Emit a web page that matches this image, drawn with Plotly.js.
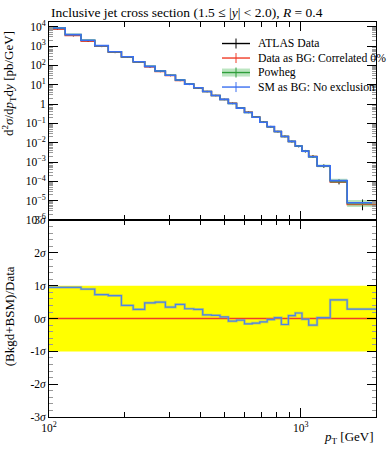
<!DOCTYPE html>
<html>
<head>
<meta charset="utf-8">
<script src="https://cdn.plot.ly/plotly-3.0.1.min.js"></script>
<style>
  html, body { margin: 0; padding: 0; background: #fff; }
  #chart { width: 389px; height: 450px; }
</style>
</head>
<body>
<div id="chart"></div>
<script>
// ---- data ----
const binEdges = [100,116,134,152,172,194,216,240,264,290,318,346,376,408,442,478,516,556,598,642,688,736,786,838,894,952,1012,1076,1162,1310,1530,1992];

const dataVals = [7.7e3,3.53e3,1.82e3,978,476,270,151,85.3,48.8,30.1,16.8,10.5,6.83,4.46,2.78,1.74,1.088,0.623,0.376,0.213,0.116,0.0682,0.0379,0.0214,0.01167,0.00664,0.0037,0.00197,6.36e-4,9.4e-5,6.5e-6];
const dataRelErrUp = [0.11,0.11,0.11,0.10,0.10,0.09,0.09,0.09,0.09,0.09,0.09,0.09,0.09,0.09,0.09,0.09,0.09,0.09,0.10,0.10,0.10,0.10,0.10,0.11,0.12,0.13,0.15,0.17,0.20,0.35,0.80];
const dataRelErrDn = [0.11,0.11,0.11,0.10,0.10,0.09,0.09,0.09,0.09,0.09,0.09,0.09,0.09,0.09,0.09,0.09,0.09,0.09,0.10,0.10,0.10,0.10,0.10,0.11,0.12,0.13,0.15,0.17,0.20,0.25,0.50];

const smVals = [8.5e3,3.9e3,2.0e3,1.05e3,510,280,155,89,51,31,17.5,10.8,7.0,4.5,2.8,1.75,1.08,0.62,0.37,0.21,0.115,0.068,0.038,0.021,0.0118,0.0068,0.0037,0.0019,6.4e-4,1.1e-4,7.9e-6];
const powhegVals = [8.5e3,3.9e3,2.0e3,1.05e3,510,280,155,89,51,31,17.5,10.8,7.0,4.5,2.8,1.75,1.08,0.62,0.37,0.21,0.115,0.068,0.038,0.021,0.0118,0.0068,0.0037,0.0019,6.4e-4,1.1e-4,7.9e-6];
const powhegRelErr = [0.05,0.05,0.05,0.05,0.05,0.05,0.05,0.05,0.05,0.05,0.05,0.05,0.05,0.05,0.05,0.05,0.06,0.06,0.06,0.07,0.07,0.08,0.08,0.09,0.10,0.11,0.12,0.14,0.16,0.25,0.40];

// (Bkgd+BSM)/Data pulls in units of sigma
const smPull = [0.95,0.95,0.90,0.73,0.70,0.40,0.28,0.48,0.50,0.35,0.43,0.30,0.28,0.11,0.10,0.05,-0.08,-0.05,-0.16,-0.14,-0.10,-0.03,0.03,-0.18,0.09,0.17,-0.02,-0.20,0.03,0.57,0.29];
const dataPull = [0,0,0,0,0,0,0,0,0,0,0,0,0,0,0,0,0,0,0,0,0,0,0,0,0,0,0,0,0,0,0];
const sigmaBand = [-1, 1];

const yTickVals = [1e4,1e3,1e2,1e1,1,1e-1,1e-2,1e-3,1e-4,1e-5,1e-6];
const yTickText = ['10<sup>4</sup>','10<sup>3</sup>','10<sup>2</sup>','10<sup>1</sup>','1','10<sup>−1</sup>','10<sup>−2</sup>','10<sup>−3</sup>','10<sup>−4</sup>','10<sup>−5</sup>','10<sup>−6</sup>'];
const rTickVals = [-3,-2,-1,0,1,2,3];
const rTickText = ['-3<i>σ</i>','-2<i>σ</i>','-1<i>σ</i>','0<i>σ</i>','1<i>σ</i>','2<i>σ</i>','3<i>σ</i>'];
const xTickVals = [100, 1000];
const xTickText = ['10<sup>2</sup>','10<sup>3</sup>'];
const xMinorVals = [200,300,400,500,600,700,800,900,2000];

// ---- helpers ----
const stepY = v => v.concat([v[v.length-1]]);
const centers = binEdges.slice(0,-1).map((e,i) => (e + binEdges[i+1]) / 2);
const halfW = binEdges.slice(0,-1).map((e,i) => (binEdges[i+1] - e) / 2);

const FONT = 'Liberation Serif, Times New Roman, serif';
const BLUE = '#3a6ff0';
const RED = '#f03c28';
const GREEN = '#2e9e3a';

const traces = [
  // upper panel
  { x: centers, y: dataVals, xaxis: 'x2', yaxis: 'y', type: 'scatter', mode: 'markers',
    marker: { size: 1, color: '#000' }, showlegend: false, hoverinfo: 'skip',
    error_y: { type: 'data', symmetric: false,
      array: dataVals.map((v,i) => v * dataRelErrUp[i]),
      arrayminus: dataVals.map((v,i) => v * dataRelErrDn[i]),
      color: '#000', thickness: 1, width: 0 },
    error_x: { type: 'data', array: halfW, color: '#000', thickness: 1, width: 0 } },
  { x: binEdges, y: stepY(dataVals), xaxis: 'x2', yaxis: 'y', type: 'scatter', mode: 'lines',
    line: { shape: 'hv', color: RED, width: 1.5 }, showlegend: false, hoverinfo: 'skip' },
  { x: binEdges, y: stepY(powhegVals.map((v,i) => v * (1 - powhegRelErr[i]))), xaxis: 'x2', yaxis: 'y',
    type: 'scatter', mode: 'lines', line: { shape: 'hv', width: 0, color: 'rgba(0,0,0,0)' },
    showlegend: false, hoverinfo: 'skip' },
  { x: binEdges, y: stepY(powhegVals.map((v,i) => v * (1 + powhegRelErr[i]))), xaxis: 'x2', yaxis: 'y',
    type: 'scatter', mode: 'lines', fill: 'tonexty', fillcolor: 'rgba(60,180,75,0.35)',
    line: { shape: 'hv', width: 0, color: 'rgba(0,0,0,0)' }, showlegend: false, hoverinfo: 'skip' },
  { x: binEdges, y: stepY(powhegVals), xaxis: 'x2', yaxis: 'y', type: 'scatter', mode: 'lines',
    line: { shape: 'hv', color: GREEN, width: 1.5 }, showlegend: false, hoverinfo: 'skip' },
  { x: binEdges, y: stepY(smVals), xaxis: 'x2', yaxis: 'y', type: 'scatter', mode: 'lines',
    line: { shape: 'hv', color: BLUE, width: 1.6 }, showlegend: false, hoverinfo: 'skip' },

  // lower (ratio) panel
  { x: [binEdges[0], binEdges[binEdges.length-1]], y: [sigmaBand[0], sigmaBand[0]], xaxis: 'x', yaxis: 'y2',
    type: 'scatter', mode: 'lines', line: { width: 0, color: 'rgba(0,0,0,0)' }, showlegend: false, hoverinfo: 'skip' },
  { x: [binEdges[0], binEdges[binEdges.length-1]], y: [sigmaBand[1], sigmaBand[1]], xaxis: 'x', yaxis: 'y2',
    type: 'scatter', mode: 'lines', fill: 'tonexty', fillcolor: '#ffff00',
    line: { width: 0, color: 'rgba(0,0,0,0)' }, showlegend: false, hoverinfo: 'skip' },
  { x: binEdges, y: stepY(dataPull), xaxis: 'x', yaxis: 'y2', type: 'scatter', mode: 'lines',
    line: { shape: 'hv', color: RED, width: 1.5 }, showlegend: false, hoverinfo: 'skip' },
  { x: binEdges, y: stepY(smPull), xaxis: 'x', yaxis: 'y2', type: 'scatter', mode: 'lines',
    line: { shape: 'hv', color: 'rgba(150,160,170,0.55)', width: 2.6 }, showlegend: false, hoverinfo: 'skip' },
  { x: binEdges, y: stepY(smPull), xaxis: 'x', yaxis: 'y2', type: 'scatter', mode: 'lines',
    line: { shape: 'hv', color: '#4a86e6', width: 1.2 }, showlegend: false, hoverinfo: 'skip' }
];

// ---- legend (manual, to match tight row spacing) ----
const plotTop = 22, plotH = 394.7, plotL = 49, plotW = 327;
const px2x = px => (px - plotL) / plotW;
const px2y = py => 1 - (py - plotTop) / plotH;
const legendRows = [
  { label: 'ATLAS Data', color: '#000', band: false },
  { label: 'Data as BG: Correlated 0%', color: RED, band: false },
  { label: 'Powheg', color: GREEN, band: true },
  { label: 'SM as BG: No exclusion', color: BLUE, band: false }
];
const rowY = [43.5, 58, 72.5, 87];
const shapes = [];
const annotations = [];
legendRows.forEach((r, i) => {
  const yc = rowY[i];
  if (r.band) {
    shapes.push({ type: 'rect', xref: 'paper', yref: 'paper', x0: px2x(222), x1: px2x(250),
      y0: px2y(yc + 4), y1: px2y(yc - 4), fillcolor: 'rgba(60,180,75,0.35)', line: { width: 0 } });
  }
  shapes.push({ type: 'line', xref: 'paper', yref: 'paper', x0: px2x(222), x1: px2x(250),
    y0: px2y(yc), y1: px2y(yc), line: { color: r.color, width: 1.4 } });
  shapes.push({ type: 'line', xref: 'paper', yref: 'paper', x0: px2x(236), x1: px2x(236),
    y0: px2y(yc - 5), y1: px2y(yc + 5), line: { color: r.color, width: 1 } });
  annotations.push({ xref: 'paper', yref: 'paper', x: px2x(256), y: px2y(yc), xanchor: 'left', yanchor: 'middle',
    text: r.label, showarrow: false, font: { family: FONT, size: 11.7, color: '#000' } });
});

// titles as annotations
annotations.push({ xref: 'paper', yref: 'paper', x: 0, y: px2y(13), xanchor: 'left', yanchor: 'middle',
  text: 'Inclusive jet cross section (1.5 ≤ |<i>y</i>| &lt; 2.0), <i>R</i> = 0.4', showarrow: false,
  font: { family: FONT, size: 13.5, color: '#000' } });
annotations.push({ xref: 'paper', yref: 'paper', x: px2x(9), y: px2y(84), xanchor: 'center', yanchor: 'middle',
  textangle: -90, text: 'd<sup>2</sup><i>σ</i>/d<i>p</i><sub>T</sub>d<i>y</i> [pb/GeV]', showarrow: false,
  font: { family: FONT, size: 13, color: '#000' } });
annotations.push({ xref: 'paper', yref: 'paper', x: px2x(9), y: px2y(316), xanchor: 'center', yanchor: 'middle',
  textangle: -90, text: '(Bkgd+BSM)/Data', showarrow: false,
  font: { family: FONT, size: 13, color: '#000' } });
annotations.push({ xref: 'paper', yref: 'paper', x: 1, y: px2y(437), xanchor: 'right', yanchor: 'middle',
  text: '<i>p</i><sub>T</sub> [GeV]', showarrow: false,
  font: { family: FONT, size: 13, color: '#000' } });

const split = (416.7 - 220) / plotH;
const xRange = [Math.log10(binEdges[0]), Math.log10(binEdges[binEdges.length-1])];

const commonAxis = {
  showline: true, linecolor: '#000', linewidth: 1, mirror: 'ticks', ticks: 'inside',
  tickcolor: '#000', tickwidth: 1, showgrid: false, zeroline: false,
  tickfont: { family: FONT, size: 11.5, color: '#000' }
};

const layout = {
  width: 389, height: 450,
  margin: { l: plotL, r: 389 - plotL - plotW, t: plotTop, b: 450 - plotTop - plotH, pad: 0 },
  paper_bgcolor: '#fff', plot_bgcolor: '#fff',
  showlegend: false,
  font: { family: FONT, size: 11, color: '#000' },
  xaxis: Object.assign({}, commonAxis, {
    type: 'log', range: xRange, anchor: 'y2', ticklen: 9,
    tickmode: 'array', tickvals: xTickVals, ticktext: xTickText,
    minor: { tickmode: 'array', tickvals: xMinorVals, ticks: 'inside', ticklen: 5, tickcolor: '#000', showgrid: false }
  }),
  xaxis2: Object.assign({}, commonAxis, {
    type: 'log', range: xRange, anchor: 'y', matches: 'x', ticklen: 9, showticklabels: false,
    tickmode: 'array', tickvals: xTickVals,
    minor: { tickmode: 'array', tickvals: xMinorVals, ticks: 'inside', ticklen: 5, tickcolor: '#000', showgrid: false }
  }),
  yaxis: Object.assign({}, commonAxis, {
    type: 'log', range: [-6, 4.243], domain: [split, 1], anchor: 'x2', ticklen: 9,
    tickmode: 'array', tickvals: yTickVals, ticktext: yTickText,
    minor: { dtick: 'D1', ticks: 'inside', ticklen: 4, tickcolor: '#999', showgrid: false }
  }),
  yaxis2: Object.assign({}, commonAxis, {
    range: [-3, 3], domain: [0, split], anchor: 'x', ticklen: 9,
    tickmode: 'array', tickvals: rTickVals, ticktext: rTickText,
    minor: { dtick: 0.2, ticks: 'inside', ticklen: 4, tickcolor: '#999', showgrid: false }
  }),
  shapes: shapes,
  annotations: annotations
};

Plotly.newPlot('chart', traces, layout, { staticPlot: true, displayModeBar: false });
</script>
</body>
</html>
